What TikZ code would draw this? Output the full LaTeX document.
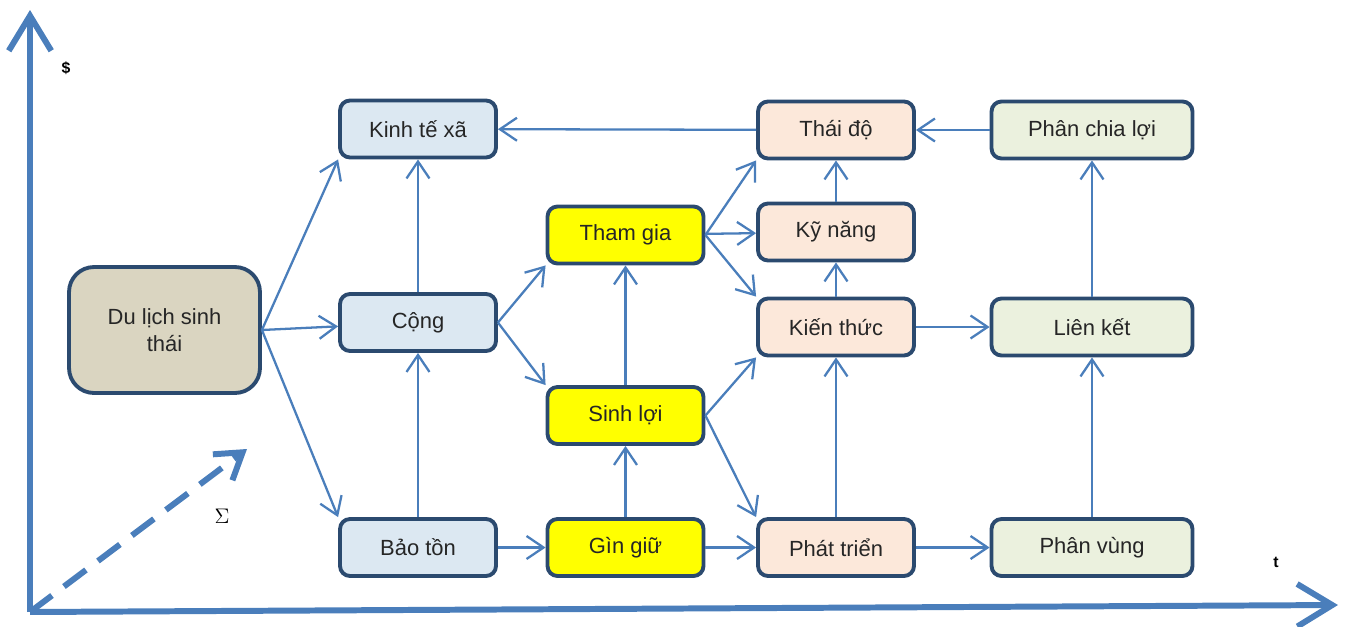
\documentclass[tikz,border=0pt]{standalone}
\usepackage{fontspec}
\setmainfont{Liberation Sans}
\usetikzlibrary{arrows.meta}

\definecolor{linkblue}{HTML}{4A7EBB}
\definecolor{boxline}{HTML}{2B4A6F}
\definecolor{tanfill}{HTML}{DAD5C1}
\definecolor{bluefill}{HTML}{DCE8F2}
\definecolor{peachfill}{HTML}{FCE8DA}
\definecolor{greenfill}{HTML}{EBF1DE}
\definecolor{yellowfill}{HTML}{FFFF00}

\begin{document}
\begin{tikzpicture}[x=0.02cm, y=-0.02cm,
    box/.style={draw=boxline, line width=2.2pt, rounded corners=0.2cm,
      minimum width=3.12cm, minimum height=1.14cm, inner sep=2pt,
      font=\fontsize{12.5}{15}\selectfont, text=black!85},
    link/.style={draw=linkblue, line width=1.3pt,
      -{Straight Barb[length=3.4mm,width=4.6mm]}},
    axis/.style={draw=linkblue, line width=3.4pt,
      -{Straight Barb[length=7mm,width=8.5mm]}}]
        \useasboundingbox (0,0) rectangle (1349,626);

        % axes
        \coordinate (O) at (30,612);
        \coordinate (ytip) at (30,10);
        \coordinate (xtip) at (1338,605);
        \coordinate (sumtip) at (247,449);
        \draw[axis] (O) -- (ytip);
        \draw[axis] (O) -- (xtip);
        \draw[draw=linkblue, line width=3.4pt, dash pattern=on 5.5mm off 3mm,
          -{Straight Barb[length=5mm,width=6.5mm]}] (O) -- (sumtip);
        \node[font=\bfseries\small] (dollar) at (66,68) {\$};
        \node[font=\bfseries\small] (time) at (1276,562) {t};
        \node[font=\large] (sigma) at (222,516) {$\Sigma$};

        % boxes
        \node[box, fill=tanfill, rounded corners=0.5cm, minimum width=3.82cm,
          minimum height=2.52cm, align=center] (dl) at (164.5,330) {Du lịch sinh\\thái};

        \node[box, fill=bluefill] (kt) at (418,129) {Kinh tế xã};
        \node[box, fill=bluefill] (cong) at (418,322.5) {Cộng};
        \node[box, fill=bluefill] (bt) at (418,547.5) {Bảo tồn};

        \node[box, fill=yellowfill] (tg) at (625.5,235) {Tham gia};
        \node[box, fill=yellowfill] (sl) at (625.5,415.5) {Sinh lợi};
        \node[box, fill=yellowfill] (gg) at (625.5,547.5) {Gìn giữ};

        \node[box, fill=peachfill] (td) at (836,130) {Thái độ};
        \node[box, fill=peachfill] (kn) at (836,232) {Kỹ năng};
        \node[box, fill=peachfill] (kth) at (836,327) {Kiến thức};
        \node[box, fill=peachfill] (pt) at (836,547.5) {Phát triển};

        \node[box, fill=greenfill, minimum width=4.02cm] (pcl) at (1092,130) {Phân chia lợi};
        \node[box, fill=greenfill, minimum width=4.02cm] (lk) at (1092,327) {Liên kết};
        \node[box, fill=greenfill, minimum width=4.02cm] (pv) at (1092,547.5) {Phân vùng};

        % links
        \draw[link] (dl.east) -- (kt.south west);
        \draw[link] (dl.east) -- (cong);
        \draw[link] (dl.east) -- (bt.north west);

        \draw[link] (cong) -- (kt);
        \draw[link] (bt) -- (cong);
        \draw[link] (bt) -- (gg);

        \draw[link] (cong.east) -- (tg.south west);
        \draw[link] (cong.east) -- (sl.north west);
        \draw[link] (sl) -- (tg);
        \draw[link] (gg) -- (sl);
        \draw[link] (gg) -- (pt);

        \draw[link] (tg.east) -- (td.south west);
        \draw[link] (tg) -- (kn);
        \draw[link] (tg.east) -- (kth.north west);
        \draw[link] (sl.east) -- (kth.south west);
        \draw[link] (sl.east) -- (pt.north west);

        \draw[link] (kn) -- (td);
        \draw[link] (kth) -- (kn);
        \draw[link] (pt) -- (kth);
        \draw[link] (td) -- (kt);

        \draw[link] (pcl) -- (td);
        \draw[link] (kth) -- (lk);
        \draw[link] (lk) -- (pcl);
        \draw[link] (pv) -- (lk);
        \draw[link] (pt) -- (pv);
\end{tikzpicture}
\end{document}
